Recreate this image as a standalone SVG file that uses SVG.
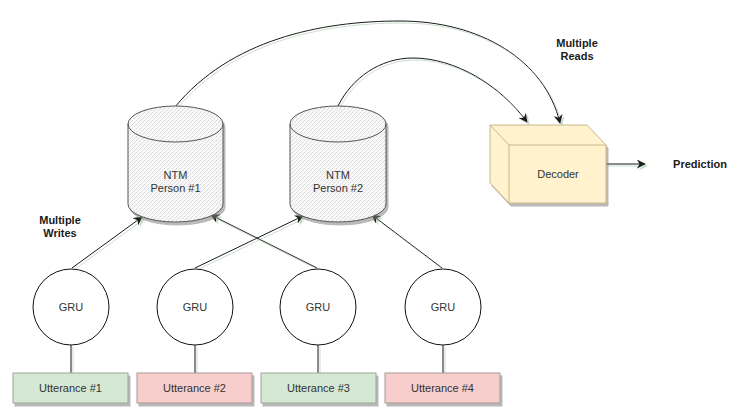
<svg xmlns="http://www.w3.org/2000/svg" width="743" height="414" viewBox="0 0 743 414">
<defs>
<style>
text{font-family:"Liberation Sans",Arial,sans-serif;font-size:11px;text-anchor:middle;dominant-baseline:central;fill:#333}
.b{font-weight:bold;fill:#1a1a1a}
.cyl{fill:url(#dots);stroke:#555;stroke-width:1}
.gru{fill:#fff;stroke:#111;stroke-width:1}
.ug{fill:#d5e8d4;stroke:#9aa89a;stroke-width:1}
.up{fill:#f8cecc;stroke:#a89a9a;stroke-width:1}
.cube{fill:#fff2cc;stroke:#c8b88a;stroke-width:1}
.edge{fill:none;stroke:#1a1a1a;stroke-width:1}
</style>
<pattern id="dots" width="4" height="4" patternUnits="userSpaceOnUse">
<rect width="4" height="4" fill="#f8f8f8"/>
<rect x="0" y="0" width="1" height="1" fill="#d4d4d4"/>
<rect x="2" y="2" width="1" height="1" fill="#dcdcdc"/>
<rect x="3" y="1" width="1" height="1" fill="#eae2e2"/>
<rect x="1" y="3" width="1" height="1" fill="#e2eae2"/>
</pattern>
<filter id="sh" x="-20%" y="-20%" width="150%" height="150%">
<feOffset in="SourceAlpha" dx="2" dy="3" result="o"/>
<feFlood flood-color="#808080" flood-opacity="0.55"/>
<feComposite in2="o" operator="in" result="s"/>
<feMerge><feMergeNode in="s"/><feMergeNode in="SourceGraphic"/></feMerge>
</filter>
<filter id="lsh" x="-20%" y="-20%" width="150%" height="150%">
<feOffset in="SourceAlpha" dx="2" dy="2" result="o"/>
<feFlood flood-color="#a8c8a8" flood-opacity="0.6"/>
<feComposite in2="o" operator="in" result="s"/>
<feMerge><feMergeNode in="s"/><feMergeNode in="SourceGraphic"/></feMerge>
</filter>
<marker id="arr" viewBox="0 0 10 10" refX="9" refY="5" markerWidth="9" markerHeight="9" markerUnits="userSpaceOnUse" orient="auto">
<path d="M0,0 L10,5 L0,10 L3,5 Z" fill="#1a1a1a"/>
</marker>
</defs>

<g id="connectors" filter="url(#lsh)">
<path class="edge" d="M175,107 C230,40 320,21 400,21 C480,21 545,60 560,123" marker-end="url(#arr)"/>
<path class="edge" d="M338,106 C352,78 380,58 413,58 C455,58 500,85 527,122" marker-end="url(#arr)"/>
<line class="edge" x1="72" y1="268" x2="142" y2="217" marker-end="url(#arr)"/>
<line class="edge" x1="317" y1="268" x2="211" y2="215" marker-end="url(#arr)"/>
<line class="edge" x1="195" y1="268" x2="303" y2="216" marker-end="url(#arr)"/>
<line class="edge" x1="442" y1="268" x2="372" y2="215" marker-end="url(#arr)"/>
<line class="edge" x1="606" y1="164" x2="645" y2="164" marker-end="url(#arr)"/>
<line class="edge" x1="71" y1="345" x2="71" y2="373"/>
<line class="edge" x1="195" y1="345" x2="195" y2="373"/>
<line class="edge" x1="318" y1="345" x2="318" y2="373"/>
<line class="edge" x1="443" y1="345" x2="443" y2="373"/>
</g>

<g id="ntm1">
<path class="cyl" filter="url(#sh)" d="M128,124 a47.5,18 0 0 1 95,0 V204 a47.5,18 0 0 1 -95,0 Z"/>
<path fill="none" stroke="#555" d="M128,124 a47.5,18 0 0 0 95,0"/>
<text x="175.5" y="175">NTM</text>
<text x="175.5" y="188">Person #1</text>
</g>
<g id="ntm2">
<path class="cyl" filter="url(#sh)" d="M290,124 a48,18 0 0 1 96,0 V204 a48,18 0 0 1 -96,0 Z"/>
<path fill="none" stroke="#555" d="M290,124 a48,18 0 0 0 96,0"/>
<text x="338" y="175">NTM</text>
<text x="338" y="188">Person #2</text>
</g>

<g id="decoder">
<path class="cube" filter="url(#sh)" d="M490,125 H587 L606,145 V203 H509 L490,183 Z"/>
<path fill="none" stroke="#c8b88a" d="M490,125 L509,145 H606 M509,145 V203"/>
<text x="558" y="174">Decoder</text>
</g>

<g id="prediction"><text class="b" x="700" y="164">Prediction</text></g>
<g id="reads"><text class="b" x="577" y="43">Multiple</text><text class="b" x="577" y="56">Reads</text></g>
<g id="writes"><text class="b" x="60" y="220">Multiple</text><text class="b" x="60" y="233">Writes</text></g>

<g id="gru1"><circle class="gru" cx="71" cy="307" r="38"/><text x="71" y="307">GRU</text></g>
<g id="gru2"><circle class="gru" cx="195" cy="307" r="38"/><text x="195" y="307">GRU</text></g>
<g id="gru3"><circle class="gru" cx="318" cy="307" r="38"/><text x="318" y="307">GRU</text></g>
<g id="gru4"><circle class="gru" cx="443" cy="307" r="38"/><text x="443" y="307">GRU</text></g>

<g id="utt1"><rect class="ug" filter="url(#sh)" x="13" y="373" width="115" height="30"/><text x="70.5" y="388">Utterance #1</text></g>
<g id="utt2"><rect class="up" filter="url(#sh)" x="137" y="373" width="115" height="30"/><text x="194.5" y="388">Utterance #2</text></g>
<g id="utt3"><rect class="ug" filter="url(#sh)" x="261" y="373" width="115" height="30"/><text x="318.5" y="388">Utterance #3</text></g>
<g id="utt4"><rect class="up" filter="url(#sh)" x="385" y="373" width="115" height="30"/><text x="442.5" y="388">Utterance #4</text></g>
</svg>
